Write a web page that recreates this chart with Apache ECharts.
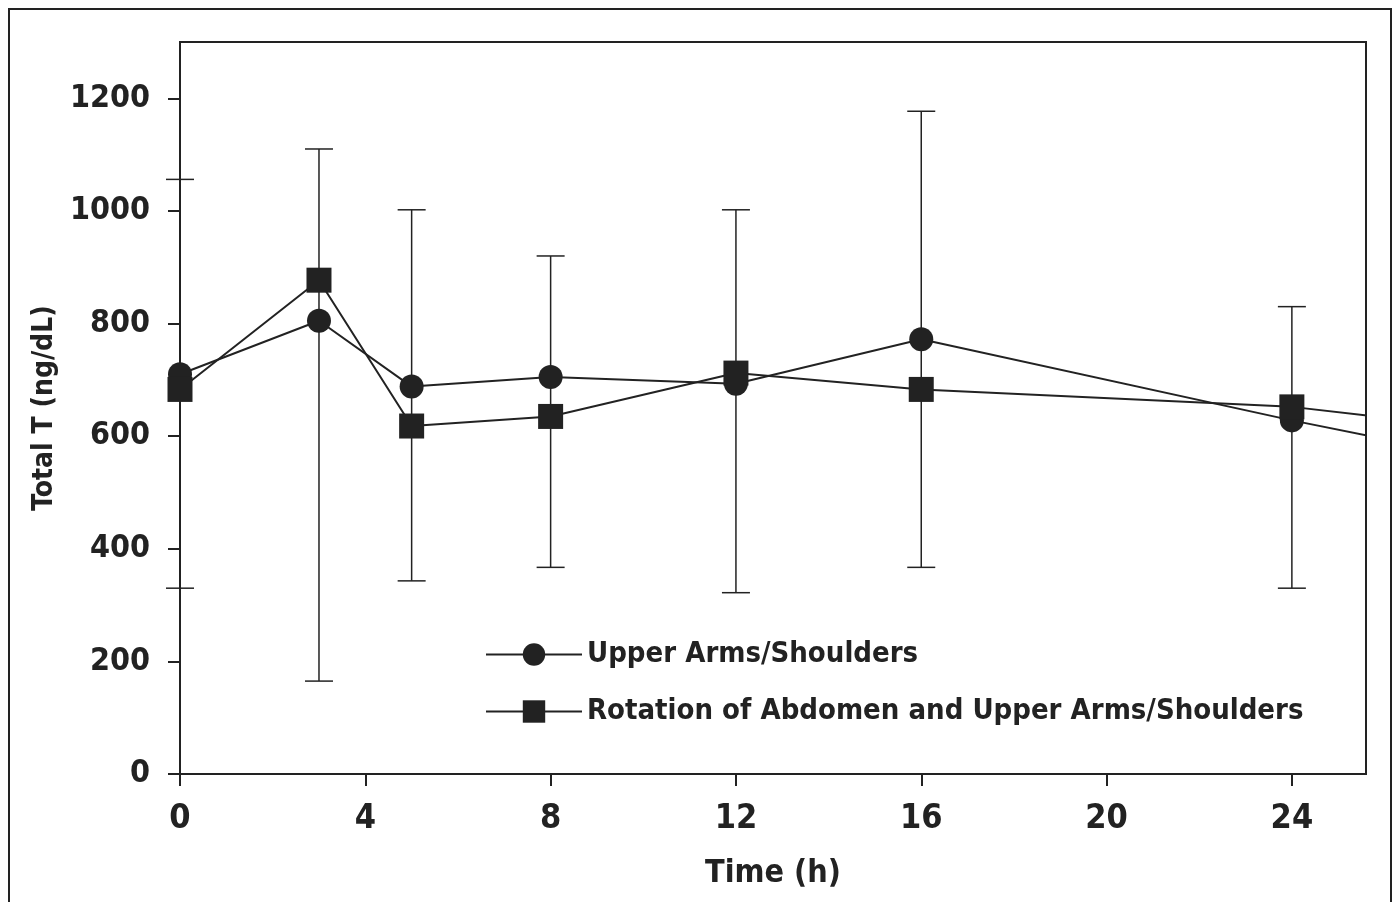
<!DOCTYPE html>
<html>
<head>
<meta charset="utf-8">
<script src="https://cdn.jsdelivr.net/npm/echarts@6/dist/echarts.min.js"></script>
<style>html,body{margin:0;padding:0;background:#fff}#chart{width:1400px;height:902px}</style>
</head>
<body>
<div id="chart"></div>
<script>
var times = [0, 3, 5, 8, 12, 16, 24, 26];
var upperArms = [710, 805, 688, 705, 693, 772, 628, 595];
var rotation = [683, 877, 618, 635, 712, 683, 652, 633];
var errTimes = [0, 3, 5, 8, 12, 16, 24];
var errLow = [330, 165, 343, 367, 322, 367, 330];
var errHigh = [1056, 1110, 1002, 920, 1002, 1177, 830];
var xTicks = [0, 4, 8, 12, 16, 20, 24];
var yTicks = [0, 200, 400, 600, 800, 1000, 1200];

var font = '"Liberation Sans Narrow", "DejaVu Sans Condensed", "Liberation Sans", sans-serif';

function pairs(xs, ys) {
    return xs.map(function(x, i) { return [x, ys[i]]; });
}

var myChart = echarts.init(document.getElementById('chart'));
var option = {
    animation: false,
    graphic: [{
        type: 'rect',
        shape: { x: 9, y: 9, width: 1382, height: 900 },
        style: { fill: 'none', stroke: '#222', lineWidth: 2 }
    }],
    grid: { left: 180, right: 34, top: 42, bottom: 128, show: true, borderColor: '#222', borderWidth: 2 },
    legend: {
        left: 480, top: 635, orient: 'vertical', itemGap: 28,
        itemWidth: 96, itemHeight: 28,
        textStyle: { fontFamily: font, fontWeight: 'bold', fontSize: 29, color: '#222' },
        data: ['Upper Arms/Shoulders', 'Rotation of Abdomen and Upper Arms/Shoulders']
    },
    xAxis: {
        type: 'value', min: 0, max: 25.6,
        name: 'Time (h)', nameLocation: 'middle', nameGap: 84,
        nameTextStyle: { fontFamily: font, fontWeight: 'bold', fontSize: 32, color: '#222' },
        axisLine: { lineStyle: { color: '#222', width: 2 } },
        axisTick: { customValues: xTicks, length: 12, lineStyle: { color: '#222', width: 2 } },
        axisLabel: { customValues: xTicks, margin: 28, fontFamily: font, fontWeight: 'bold', fontSize: 34, color: '#222' },
        splitLine: { show: false }
    },
    yAxis: {
        type: 'value', min: 0, max: 1300,
        name: 'Total T (ng/dL)', nameLocation: 'middle', nameGap: 118,
        nameTextStyle: { fontFamily: font, fontWeight: 'bold', fontSize: 28, color: '#222' },
        axisLine: { lineStyle: { color: '#222', width: 2 } },
        axisTick: { customValues: yTicks, length: 12, lineStyle: { color: '#222', width: 2 } },
        axisLabel: { customValues: yTicks, formatter: function(v) { return String(v); }, margin: 30, fontFamily: font, fontWeight: 'bold', fontSize: 32, color: '#222' },
        splitLine: { show: false }
    },
    series: [{
        name: 'errors', type: 'custom', clip: false, z: 1,
        data: errTimes.map(function(t, i) { return [t, errLow[i], errHigh[i]]; }),
        renderItem: function(params, api) {
            var lo = api.coord([api.value(0), api.value(1)]);
            var hi = api.coord([api.value(0), api.value(2)]);
            var w = 14;
            var st = { stroke: '#222', lineWidth: 1.5 };
            return { type: 'group', children: [
                { type: 'line', shape: { x1: lo[0], y1: lo[1], x2: hi[0], y2: hi[1] }, style: st },
                { type: 'line', shape: { x1: lo[0] - w, y1: lo[1], x2: lo[0] + w, y2: lo[1] }, style: st },
                { type: 'line', shape: { x1: hi[0] - w, y1: hi[1], x2: hi[0] + w, y2: hi[1] }, style: st }
            ]};
        }
    }, {
        name: 'Upper Arms/Shoulders', type: 'line', z: 3,
        data: pairs(times, upperArms),
        symbol: 'circle', symbolSize: 24,
        lineStyle: { color: '#222', width: 2 },
        itemStyle: { color: '#222' }
    }, {
        name: 'Rotation of Abdomen and Upper Arms/Shoulders', type: 'line', z: 3,
        data: pairs(times, rotation),
        symbol: 'rect', symbolSize: 25,
        lineStyle: { color: '#222', width: 2 },
        itemStyle: { color: '#222' }
    }]
};
myChart.setOption(option);
</script>
</body>
</html>
